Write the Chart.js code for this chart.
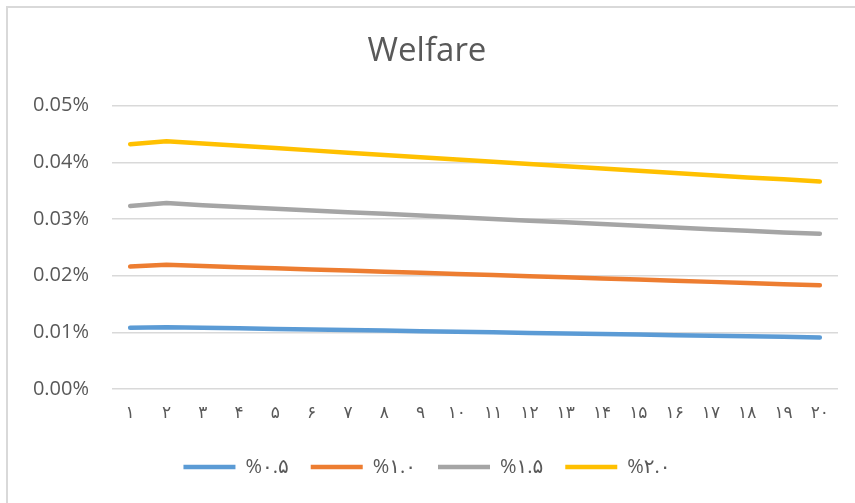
<!DOCTYPE html>
<html>
<head>
<meta charset="utf-8">
<script src="https://cdn.jsdelivr.net/npm/chart.js@4/dist/chart.umd.min.js"></script>
<style>
  html, body { margin: 0; padding: 0; background: #fff; }
  #wrap { width: 855px; height: 503px; position: relative; }
</style>
</head>
<body>
<div id="wrap"><canvas id="chart" width="855" height="503"></canvas></div>
<script>
// categories (Persian digits, as in the original)
const periods = ['۱', '۲', '۳', '۴', '۵', '۶', '۷', '۸', '۹', '۱۰',
  '۱۱', '۱۲', '۱۳', '۱۴', '۱۵', '۱۶', '۱۷', '۱۸', '۱۹', '۲۰'];

const seriesNames = ['%۰.۵', '%۱.۰', '%۱.۵', '%۲.۰'];

// values in percent
const welfare05 = [0.0108, 0.0109, 0.0108, 0.0107, 0.0106, 0.0105, 0.0104, 0.0103, 0.0102, 0.0101,
  0.0100, 0.0099, 0.0098, 0.0097, 0.0096, 0.0095, 0.0094, 0.0093, 0.0092, 0.0091];
const welfare10 = [0.0216, 0.0219, 0.0217, 0.0215, 0.0213, 0.0211, 0.0209, 0.0207, 0.0205, 0.0203,
  0.0201, 0.0199, 0.0197, 0.0195, 0.0193, 0.0191, 0.0189, 0.0187, 0.0185, 0.0183];
const welfare15 = [0.0323, 0.0328, 0.0324, 0.0321, 0.0318, 0.0315, 0.0312, 0.0309, 0.0306, 0.0303,
  0.0300, 0.0297, 0.0294, 0.0291, 0.0288, 0.0285, 0.0282, 0.0279, 0.0276, 0.0274];
const welfare20 = [0.0432, 0.0437, 0.0433, 0.0429, 0.0425, 0.0421, 0.0417, 0.0413, 0.0409, 0.0405,
  0.0401, 0.0397, 0.0393, 0.0389, 0.0385, 0.0381, 0.0377, 0.0373, 0.0370, 0.0366];

const colors = ['#5B9BD5', '#ED7D31', '#A5A5A5', '#FFC000'];
const textColor = '#595959';
const fontFamily = '"Open Sans", "DejaVu Sans", sans-serif';

function lineSet(label, data, color) {
  return {
    label: label,
    data: data,
    borderColor: color,
    backgroundColor: color,
    borderWidth: 4.5,
    borderCapStyle: 'round',
    borderJoinStyle: 'round',
    pointRadius: 0,
    pointHoverRadius: 0,
    tension: 0,
    fill: false
  };
}

// light frame on the top and left edge, like the original chart area border
const framePlugin = {
  id: 'frame',
  afterDraw: (chart) => {
    const ctx = chart.ctx;
    ctx.save();
    ctx.strokeStyle = '#d9d9d9';
    ctx.lineWidth = 2;
    ctx.beginPath();
    ctx.moveTo(7, chart.height);
    ctx.lineTo(7, 7);
    ctx.lineTo(chart.width, 7);
    ctx.stroke();
    ctx.restore();
  }
};

new Chart(document.getElementById('chart'), {
  type: 'line',
  data: {
    labels: periods,
    datasets: [
      lineSet(seriesNames[0], welfare05, colors[0]),
      lineSet(seriesNames[1], welfare10, colors[1]),
      lineSet(seriesNames[2], welfare15, colors[2]),
      lineSet(seriesNames[3], welfare20, colors[3])
    ]
  },
  options: {
    responsive: false,
    animation: false,
    layout: {
      padding: { left: 16, right: 17, top: 0, bottom: 16 }
    },
    plugins: {
      title: {
        display: true,
        text: 'Welfare',
        color: textColor,
        font: { family: fontFamily, size: 33, weight: 'normal' },
        padding: { top: 32, bottom: 34 }
      },
      legend: {
        position: 'bottom',
        labels: {
          usePointStyle: true,
          pointStyle: 'line',
          pointStyleWidth: 52,
          boxHeight: 20,
          padding: 22,
          color: textColor,
          font: { family: fontFamily, size: 20 }
        }
      },
      tooltip: { enabled: false }
    },
    scales: {
      x: {
        offset: true,
        grid: { display: false },
        border: { display: false },
        ticks: {
          color: textColor,
          padding: 6,
          maxRotation: 0,
          autoSkip: false,
          font: { family: '"DejaVu Sans", sans-serif', size: 17 }
        },
        afterFit: (s) => { s.height = 46; }
      },
      y: {
        min: 0,
        max: 0.05,
        ticks: {
          stepSize: 0.01,
          color: textColor,
          padding: 23,
          font: { family: fontFamily, size: 20 },
          callback: (v) => v.toFixed(2) + '%'
        },
        grid: { color: '#d9d9d9', lineWidth: 1.5, drawTicks: false },
        border: { display: false },
        afterFit: (s) => { s.width = 96; }
      }
    }
  },
  plugins: [framePlugin]
});
</script>
</body>
</html>
